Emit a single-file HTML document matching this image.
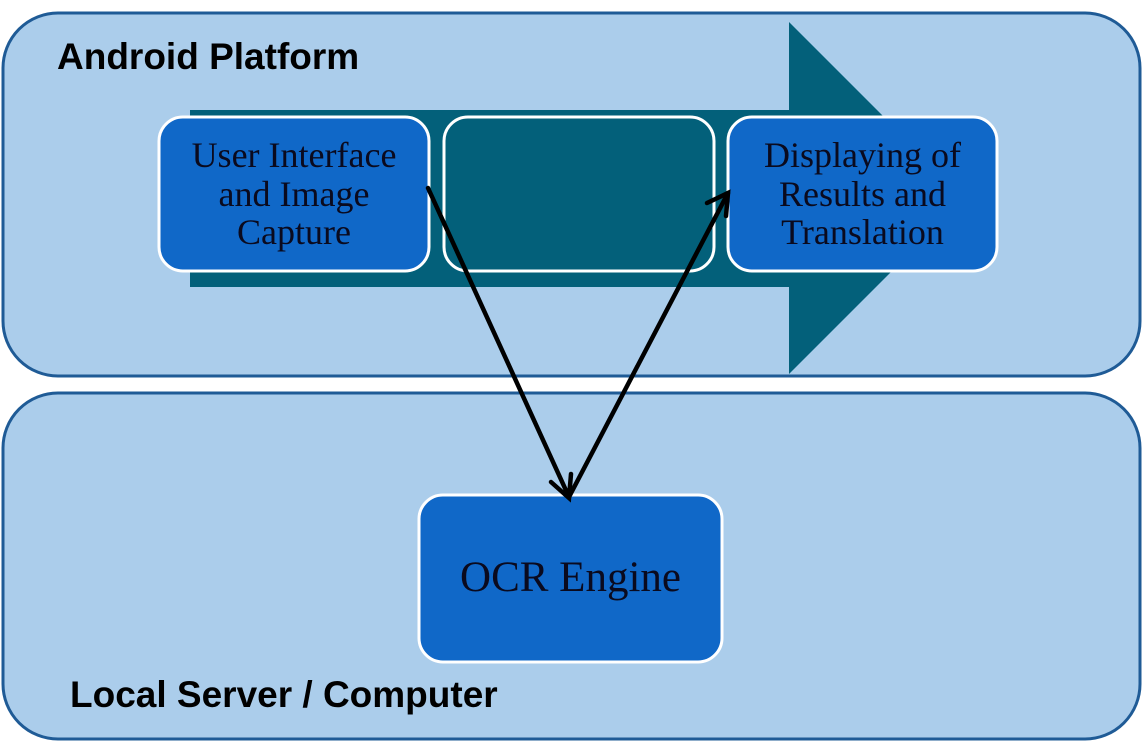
<!DOCTYPE html>
<html><head><style>
body{margin:0;width:1144px;height:742px;background:#fff;overflow:hidden;position:relative;font-family:"Liberation Serif",serif}
.t{position:absolute;font-family:"Liberation Sans",sans-serif;font-weight:bold;font-size:37px;color:#000;white-space:nowrap}
.bx{position:absolute;text-align:center;font-size:36px;line-height:38.5px;color:#0a0a1e;display:flex;align-items:center;justify-content:center;white-space:nowrap}
</style></head><body>
<svg width="1144" height="742" style="position:absolute;left:0;top:0">
<rect x="3" y="13" width="1137" height="363" rx="55" fill="#abcdeb" stroke="#1f5b96" stroke-width="3"/>
<rect x="3" y="393" width="1137" height="346" rx="55" fill="#abcdeb" stroke="#1f5b96" stroke-width="3"/>
<polygon points="190,110 789,110 789,22 965,198 789,374 789,287 190,287" fill="#03607a"/>
<rect x="159" y="117" width="270" height="154" rx="24" fill="#1068c8" stroke="#fff" stroke-width="3"/>
<rect x="444" y="117" width="270" height="154" rx="24" fill="#03607a" stroke="#fff" stroke-width="3"/>
<rect x="728" y="117" width="269" height="154" rx="24" fill="#1068c8" stroke="#fff" stroke-width="3"/>
<rect x="419" y="495" width="303" height="167" rx="24" fill="#1068c8" stroke="#fff" stroke-width="3"/>
<g stroke="#000" stroke-width="4.5" fill="none" stroke-linecap="round">
<line x1="428" y1="188" x2="569" y2="497"/>
<polyline points="551,482 569,498 571,474"/>
<line x1="569" y1="497" x2="728" y2="193"/>
<polyline points="707,203 728,193 726,216"/>
</g>
</svg>
<div class="t" style="left:57px;top:36px">Android Platform</div>
<div class="t" style="left:70px;top:674px">Local Server / Computer</div>
<div class="bx" style="left:159px;top:117px;width:270px;height:154px">User Interface<br>and Image<br>Capture</div>
<div class="bx" style="left:728px;top:117px;width:269px;height:154px">Displaying of<br>Results and<br>Translation</div>
<div class="bx" style="left:419px;top:495px;width:303px;height:167px;font-size:43px">OCR Engine</div>
</body></html>
